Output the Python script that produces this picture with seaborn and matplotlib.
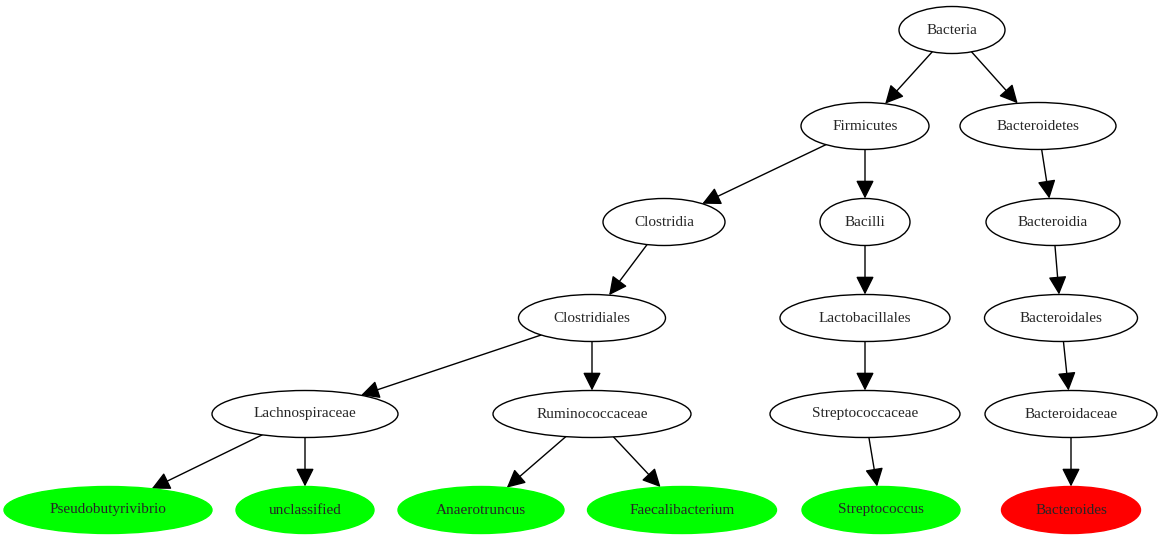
import matplotlib
matplotlib.use("Agg")
import matplotlib.pyplot as plt
import seaborn as sns
from matplotlib.patches import Ellipse, FancyArrowPatch
import numpy as np

sns.set_theme(style="white")
plt.rcParams['font.family'] = ['Liberation Serif', 'DejaVu Serif']

nodes = ["Bacteria", "Firmicutes", "Bacteroidetes", "Clostridia", "Bacilli", "Bacteroidia",
         "Clostridiales", "Lactobacillales", "Bacteroidales", "Lachnospiraceae", "Ruminococcaceae",
         "Streptococcaceae", "Bacteroidaceae", "Pseudobutyrivibrio", "unclassified",
         "Anaerotruncus", "Faecalibacterium", "Streptococcus", "Bacteroides"]
parents = [None, "Bacteria", "Bacteria", "Firmicutes", "Firmicutes", "Bacteroidetes",
           "Clostridia", "Bacilli", "Bacteroidia", "Clostridiales", "Clostridiales",
           "Lactobacillales", "Bacteroidales", "Lachnospiraceae", "Lachnospiraceae",
           "Ruminococcaceae", "Ruminococcaceae", "Streptococcaceae", "Bacteroidaceae"]
status = ["none"] * 13 + ["up", "up", "up", "up", "up", "down"]

# layout (pixels)
xs = [952, 865, 1038, 664, 865, 1053, 592, 865, 1061, 305, 592, 865, 1071, 108, 305, 481, 682, 881, 1071]
levels = [0, 1, 1, 2, 2, 2, 3, 3, 3, 4, 4, 4, 4, 5, 5, 5, 5, 5, 5]
widths = [106, 128, 156, 122, 90, 134, 147, 170, 153, 186, 198, 190, 172, 208, 138, 166, 189, 158, 139]
H = 47
fills = {"none": "white", "up": "#00ff00", "down": "#ff0000"}

fig = plt.figure(figsize=(11.61, 5.39), dpi=100)
ax = fig.add_axes([0, 0, 1, 1])
ax.set_xlim(0, 1161)
ax.set_ylim(539, 0)
ax.axis("off")

pos = {n: (x, 30 + 96 * l) for n, x, l in zip(nodes, xs, levels)}
wd = dict(zip(nodes, widths))

for n, x, l, w, s in zip(nodes, xs, levels, widths, status):
    y = 30 + 96 * l
    ax.add_patch(Ellipse((x, y), w, H, facecolor=fills[s], edgecolor="black" if s == "none" else fills[s], lw=1, zorder=2))
    ax.text(x, y, n, ha="center", va="center", fontsize=11, zorder=3)

def boundary(c, d, a, b):
    t = 1 / np.sqrt((d[0] / a) ** 2 + (d[1] / b) ** 2)
    return c + t * d

for n, p in zip(nodes, parents):
    if p is None:
        continue
    c1 = np.array(pos[p], float); c2 = np.array(pos[n], float)
    d = (c2 - c1) / np.linalg.norm(c2 - c1)
    s = boundary(c1, d, wd[p] / 2, H / 2)
    e = boundary(c2, -d, wd[n] / 2, H / 2)
    ax.add_patch(FancyArrowPatch(s, e, arrowstyle="-|>,head_length=7,head_width=3.5",
                                 color="black", lw=1, shrinkA=0, shrinkB=0, zorder=1,
                                 mutation_scale=1.6))

fig.savefig("out.png", dpi=100)
